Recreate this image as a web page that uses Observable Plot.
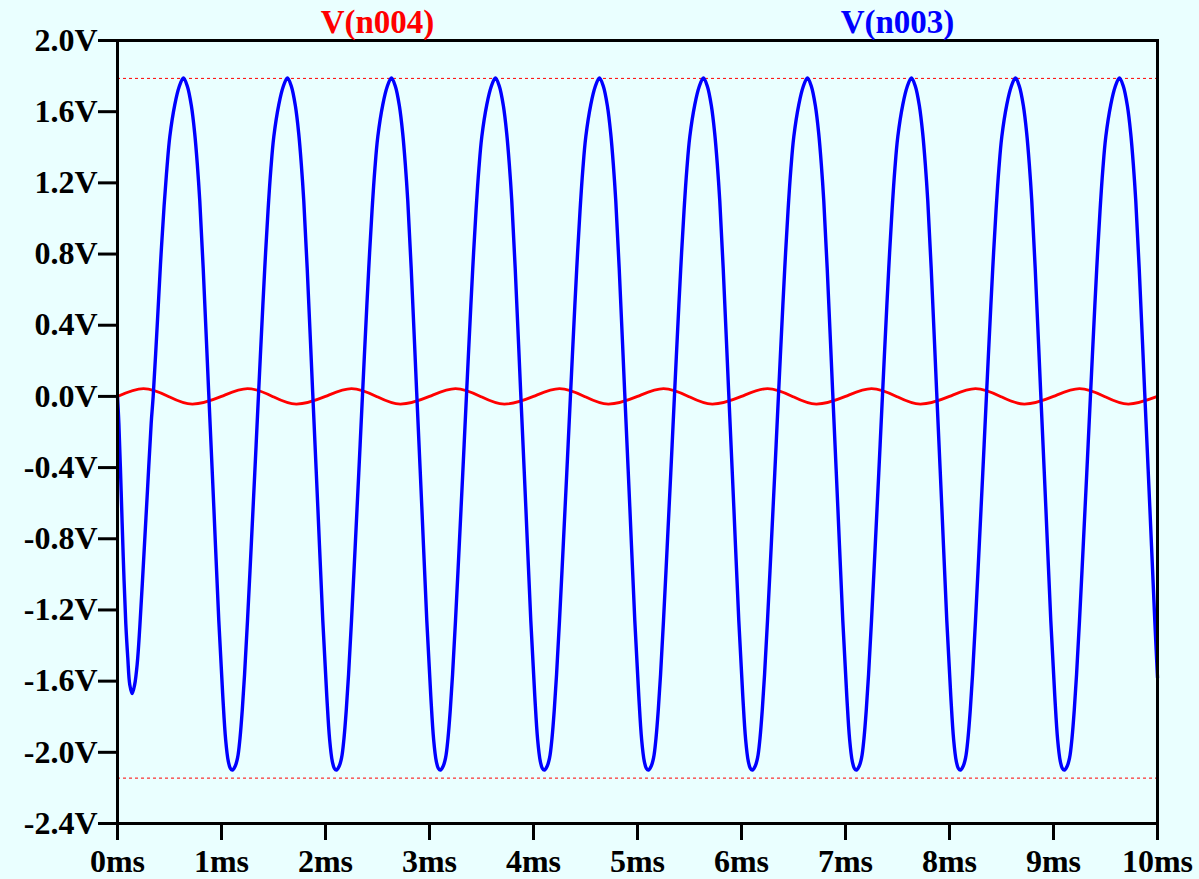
<!DOCTYPE html>
<html>
<head>
<meta charset="utf-8">
<script src="https://cdn.jsdelivr.net/npm/d3@7"></script>
<script src="https://cdn.jsdelivr.net/npm/@observablehq/plot@0.6"></script>
<style>
  html, body { margin: 0; padding: 0; background: #eaffff; }
  #chart { width: 1199px; height: 879px; }
</style>
</head>
<body>
<div id="chart"></div>
<script>
// ---- data ----
const seriesNames = ["V(n004)", "V(n003)"];
const xTicks = [0, 1, 2, 3, 4, 5, 6, 7, 8, 9, 10];             // ms
const yTicks = [-2.4, -2.0, -1.6, -1.2, -0.8, -0.4, 0, 0.4, 0.8, 1.2, 1.6, 2.0]; // V
const cursorLevels = [1.787, -2.145]; // dashed horizontal markers (V)

// V(n004): small red waveform [time ms, volts]
const n004 = [
  [0,0],[0.25,0.044],[0.49,0],[0.72,-0.043],
  [1,0],[1.25,0.044],[1.49,0],[1.72,-0.043],
  [2,0],[2.25,0.044],[2.49,0],[2.72,-0.043],
  [3,0],[3.25,0.044],[3.49,0],[3.72,-0.043],
  [4,0],[4.25,0.044],[4.49,0],[4.72,-0.043],
  [5,0],[5.25,0.044],[5.49,0],[5.72,-0.043],
  [6,0],[6.25,0.044],[6.49,0],[6.72,-0.043],
  [7,0],[7.25,0.044],[7.49,0],[7.72,-0.043],
  [8,0],[8.25,0.044],[8.49,0],[8.72,-0.043],
  [9,0],[9.25,0.044],[9.49,0],[9.72,-0.043],
  [10,0]
];

// V(n003): large blue waveform [time ms, volts]
const n003 = [
  [0,0],[0.013,-0.15],[0.035,-0.53],[0.055,-0.90],[0.080,-1.28],[0.099,-1.47],[0.118,-1.62],[0.141,-1.67],[0.165,-1.62],[0.190,-1.50],[0.214,-1.30],[0.253,-0.90],[0.288,-0.53],[0.324,-0.15],[0.343,0],[0.381,0.39],[0.413,0.74],[0.448,1.07],[0.475,1.28],[0.503,1.46],[0.551,1.64],[0.593,1.74],[0.634,1.79],
  [0.673,1.74],[0.711,1.63],[0.742,1.48],[0.768,1.30],[0.791,1.10],[0.824,0.72],[0.877,0.02],[0.926,-0.62],[0.974,-1.26],[1.012,-1.68],[1.040,-1.93],[1.065,-2.05],[1.085,-2.09],[1.105,-2.10],[1.130,-2.08],[1.155,-2.03],[1.178,-1.92],[1.200,-1.76],[1.222,-1.56],[1.250,-1.26],[1.285,-0.85],[1.320,-0.43],[1.355,0],[1.384,0.35],[1.415,0.71],[1.448,1.05],[1.475,1.28],[1.503,1.46],[1.551,1.64],[1.593,1.74],[1.634,1.79],
  [1.673,1.74],[1.711,1.63],[1.742,1.48],[1.768,1.30],[1.791,1.10],[1.824,0.72],[1.877,0.02],[1.926,-0.62],[1.974,-1.26],[2.012,-1.68],[2.040,-1.93],[2.065,-2.05],[2.085,-2.09],[2.105,-2.10],[2.130,-2.08],[2.155,-2.03],[2.178,-1.92],[2.200,-1.76],[2.222,-1.56],[2.250,-1.26],[2.285,-0.85],[2.320,-0.43],[2.355,0],[2.384,0.35],[2.415,0.71],[2.448,1.05],[2.475,1.28],[2.503,1.46],[2.551,1.64],[2.593,1.74],[2.634,1.79],
  [2.673,1.74],[2.711,1.63],[2.742,1.48],[2.768,1.30],[2.791,1.10],[2.824,0.72],[2.877,0.02],[2.926,-0.62],[2.974,-1.26],[3.012,-1.68],[3.040,-1.93],[3.065,-2.05],[3.085,-2.09],[3.105,-2.10],[3.130,-2.08],[3.155,-2.03],[3.178,-1.92],[3.200,-1.76],[3.222,-1.56],[3.250,-1.26],[3.285,-0.85],[3.320,-0.43],[3.355,0],[3.384,0.35],[3.415,0.71],[3.448,1.05],[3.475,1.28],[3.503,1.46],[3.551,1.64],[3.593,1.74],[3.634,1.79],
  [3.673,1.74],[3.711,1.63],[3.742,1.48],[3.768,1.30],[3.791,1.10],[3.824,0.72],[3.877,0.02],[3.926,-0.62],[3.974,-1.26],[4.012,-1.68],[4.040,-1.93],[4.065,-2.05],[4.085,-2.09],[4.105,-2.10],[4.130,-2.08],[4.155,-2.03],[4.178,-1.92],[4.200,-1.76],[4.222,-1.56],[4.250,-1.26],[4.285,-0.85],[4.320,-0.43],[4.355,0],[4.384,0.35],[4.415,0.71],[4.448,1.05],[4.475,1.28],[4.503,1.46],[4.551,1.64],[4.593,1.74],[4.634,1.79],
  [4.673,1.74],[4.711,1.63],[4.742,1.48],[4.768,1.30],[4.791,1.10],[4.824,0.72],[4.877,0.02],[4.926,-0.62],[4.974,-1.26],[5.012,-1.68],[5.040,-1.93],[5.065,-2.05],[5.085,-2.09],[5.105,-2.10],[5.130,-2.08],[5.155,-2.03],[5.178,-1.92],[5.200,-1.76],[5.222,-1.56],[5.250,-1.26],[5.285,-0.85],[5.320,-0.43],[5.355,0],[5.384,0.35],[5.415,0.71],[5.448,1.05],[5.475,1.28],[5.503,1.46],[5.551,1.64],[5.593,1.74],[5.634,1.79],
  [5.673,1.74],[5.711,1.63],[5.742,1.48],[5.768,1.30],[5.791,1.10],[5.824,0.72],[5.877,0.02],[5.926,-0.62],[5.974,-1.26],[6.012,-1.68],[6.040,-1.93],[6.065,-2.05],[6.085,-2.09],[6.105,-2.10],[6.130,-2.08],[6.155,-2.03],[6.178,-1.92],[6.200,-1.76],[6.222,-1.56],[6.250,-1.26],[6.285,-0.85],[6.320,-0.43],[6.355,0],[6.384,0.35],[6.415,0.71],[6.448,1.05],[6.475,1.28],[6.503,1.46],[6.551,1.64],[6.593,1.74],[6.634,1.79],
  [6.673,1.74],[6.711,1.63],[6.742,1.48],[6.768,1.30],[6.791,1.10],[6.824,0.72],[6.877,0.02],[6.926,-0.62],[6.974,-1.26],[7.012,-1.68],[7.040,-1.93],[7.065,-2.05],[7.085,-2.09],[7.105,-2.10],[7.130,-2.08],[7.155,-2.03],[7.178,-1.92],[7.200,-1.76],[7.222,-1.56],[7.250,-1.26],[7.285,-0.85],[7.320,-0.43],[7.355,0],[7.384,0.35],[7.415,0.71],[7.448,1.05],[7.475,1.28],[7.503,1.46],[7.551,1.64],[7.593,1.74],[7.634,1.79],
  [7.673,1.74],[7.711,1.63],[7.742,1.48],[7.768,1.30],[7.791,1.10],[7.824,0.72],[7.877,0.02],[7.926,-0.62],[7.974,-1.26],[8.012,-1.68],[8.040,-1.93],[8.065,-2.05],[8.085,-2.09],[8.105,-2.10],[8.130,-2.08],[8.155,-2.03],[8.178,-1.92],[8.200,-1.76],[8.222,-1.56],[8.250,-1.26],[8.285,-0.85],[8.320,-0.43],[8.355,0],[8.384,0.35],[8.415,0.71],[8.448,1.05],[8.475,1.28],[8.503,1.46],[8.551,1.64],[8.593,1.74],[8.634,1.79],
  [8.673,1.74],[8.711,1.63],[8.742,1.48],[8.768,1.30],[8.791,1.10],[8.824,0.72],[8.877,0.02],[8.926,-0.62],[8.974,-1.26],[9.012,-1.68],[9.040,-1.93],[9.065,-2.05],[9.085,-2.09],[9.105,-2.10],[9.130,-2.08],[9.155,-2.03],[9.178,-1.92],[9.200,-1.76],[9.222,-1.56],[9.250,-1.26],[9.285,-0.85],[9.320,-0.43],[9.355,0],[9.384,0.35],[9.415,0.71],[9.448,1.05],[9.475,1.28],[9.503,1.46],[9.551,1.64],[9.593,1.74],[9.634,1.79],
  [9.673,1.74],[9.711,1.63],[9.742,1.48],[9.768,1.30],[9.791,1.10],[9.824,0.72],[9.877,0.02],[9.926,-0.62],[9.974,-1.26],[10.0,-1.58]
];

// ---- chart ----
const legendItems = [
  {x: 2.5, label: seriesNames[0], color: "#ff0000"},
  {x: 7.5, label: seriesNames[1], color: "#0000ff"}
];

const chart = Plot.plot({
  width: 1199,
  height: 879,
  marginLeft: 117,
  marginRight: 42,
  marginTop: 40,
  marginBottom: 56,
  style: {
    background: "#eaffff",
    fontFamily: "'Liberation Serif', 'Times New Roman', serif",
    fontSize: "32px",
    fontWeight: "bold",
    color: "black"
  },
  x: {domain: [0, 10]},
  y: {domain: [-2.4, 2.0]},
  marks: [
    Plot.ruleY([cursorLevels[0]], {stroke: "#ff0000", strokeWidth: 1, strokeDasharray: "3,3"}),
    Plot.ruleY([cursorLevels[1]], {stroke: "#ff0000", strokeWidth: 1, strokeDasharray: "3,3"}),
    Plot.line(n004, {x: d => d[0], y: d => d[1], stroke: "#ff0000", strokeWidth: 2.8, curve: "natural"}),
    Plot.line(n003, {x: d => d[0], y: d => d[1], stroke: "#0000ff", strokeWidth: 3.4, curve: "catmull-rom"}),
    Plot.frame({stroke: "black", strokeWidth: 3}),
    Plot.axisY({
      ticks: yTicks, tickSize: 19, tickPadding: 1, strokeWidth: 3,
      tickFormat: d => (Math.abs(d) < 1e-9 ? 0 : d).toFixed(1) + "V",
      fontSize: 32, fontWeight: "bold", label: null
    }),
    Plot.axisX({
      ticks: xTicks, tickSize: 17, tickPadding: 9, strokeWidth: 3,
      tickFormat: d => d + "ms",
      fontSize: 32, fontWeight: "bold", label: null
    }),
    Plot.text(legendItems, {
      x: "x", text: "label", fill: "color",
      frameAnchor: "top", lineAnchor: "bottom", dy: -8,
      fontSize: 33, fontWeight: "bold"
    })
  ]
});
document.getElementById("chart").appendChild(chart);
</script>
</body>
</html>
